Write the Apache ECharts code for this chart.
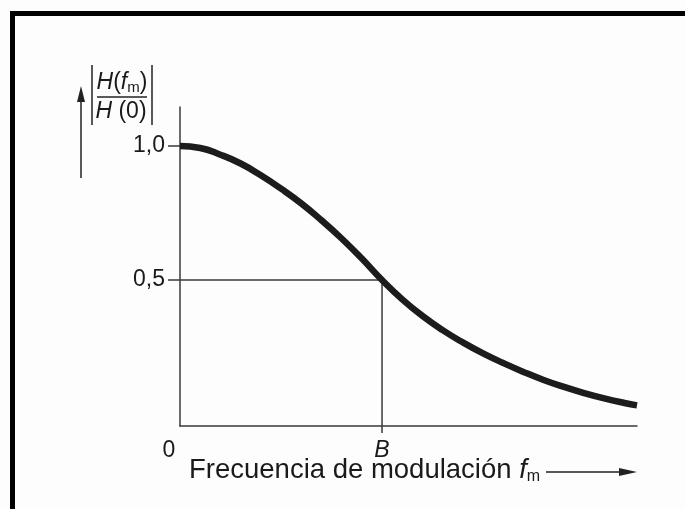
<!DOCTYPE html>
<html>
<head>
<meta charset="utf-8">
<script src="https://cdn.jsdelivr.net/npm/echarts@6/dist/echarts.min.js"></script>
<style>
html,body{margin:0;padding:0;background:#fdfdfd;}
#c{width:685px;height:509px;}
</style>
</head>
<body>
<div id="c"></div>
<script>
// Normalised modulation frequency (fm / B) and response |H(fm)/H(0)|
const freq = [0, 0.1, 0.2, 0.3, 0.4, 0.5, 0.6, 0.7, 0.8, 0.9, 1.0, 1.1, 1.2, 1.3, 1.4, 1.5, 1.6, 1.7, 1.8, 1.9, 2.0, 2.1, 2.2, 2.262];
const resp = [1.0, 0.993, 0.968, 0.935, 0.891, 0.841, 0.786, 0.723, 0.655, 0.58, 0.50, 0.428, 0.366, 0.313, 0.267, 0.226, 0.19, 0.157, 0.127, 0.101, 0.078, 0.058, 0.041, 0.032];
// Guide lines at the half-value point B
const halfLevel = 0.5;
const bandB = 1.0;
// Tick labels
const yTicks = [0.5, 1.0];
const xTicks = [0, 1.0];
const xTickNames = ['0', 'B'];

const yMin = -0.045, yMax = 1.146, xMax = 2.262;
const axisCol = '#3a3a3a';
const font = 'Liberation Sans, Arial, Helvetica, sans-serif';

const chart = echarts.init(document.getElementById('c'), null, {renderer: 'canvas'});
chart.setOption({
  backgroundColor: '#fdfdfd',
  animation: false,
  grid: {left: 180, top: 107, right: 48, bottom: 83},
  xAxis: {
    type: 'value', min: 0, max: xMax,
    axisLine: {show: true, onZero: false, lineStyle: {color: axisCol, width: 1.5}},
    splitLine: {show: false},
    axisTick: {show: true, customValues: [bandB], length: 7, lineStyle: {color: axisCol, width: 1.5}},
    axisLabel: {
      customValues: xTicks, margin: 13, fontFamily: font, fontSize: 23, color: '#1a1a1a',
      formatter: v => { const i = xTicks.indexOf(v); return i === 0 ? '{z|' + xTickNames[0] + '}' : '{b|' + xTickNames[i] + '}'; },
      rich: {
        z: {fontFamily: font, fontSize: 23, color: '#1a1a1a', padding: [0, 22, 0, 0]},
        b: {fontFamily: font, fontSize: 23, color: '#1a1a1a', fontStyle: 'italic'}
      }
    }
  },
  yAxis: {
    type: 'value', min: yMin, max: yMax,
    axisLine: {show: true, onZero: false, lineStyle: {color: axisCol, width: 1.5}},
    splitLine: {show: false},
    axisTick: {show: true, customValues: yTicks, length: 12, lineStyle: {color: axisCol, width: 1.5}},
    axisLabel: {
      customValues: yTicks, margin: 15, fontFamily: font, fontSize: 23, color: '#1a1a1a',
      formatter: v => v.toFixed(1).replace('.', ',')
    }
  },
  series: [
    {
      type: 'line', silent: true, symbol: 'none',
      data: [[0, halfLevel], [bandB, halfLevel], [bandB, yMin]],
      lineStyle: {color: axisCol, width: 1.5}
    },
    {
      type: 'line', silent: true, symbol: 'none', smooth: 0.5,
      data: freq.map((f, i) => [f, resp[i]]),
      lineStyle: {color: '#1c1c1c', width: 6.5, cap: 'butt', join: 'round'}
    }
  ],
  graphic: [
    {type: 'rect', shape: {x: 10, y: 11, width: 675, height: 5}, style: {fill: '#000'}},
    {type: 'rect', shape: {x: 10, y: 11, width: 5, height: 498}, style: {fill: '#000'}},
    // y-axis title: fraction with absolute bars and arrow
    {type: 'line', shape: {x1: 81, y1: 178, x2: 81, y2: 98}, style: {stroke: '#222', lineWidth: 1.5}},
    {type: 'polygon', shape: {points: [[81, 86], [77, 102], [85, 102]]}, style: {fill: '#222'}},
    {type: 'line', shape: {x1: 92, y1: 65, x2: 92, y2: 125}, style: {stroke: '#222', lineWidth: 1.5}},
    {type: 'line', shape: {x1: 152, y1: 65, x2: 152, y2: 125}, style: {stroke: '#222', lineWidth: 1.5}},
    {type: 'line', shape: {x1: 97, y1: 97, x2: 147, y2: 97}, style: {stroke: '#222', lineWidth: 1.5}},
    {type: 'text', x: 122, y: 83, style: {
      text: '{i|H}{n|(}{i|f}{s|m}{n|)}', align: 'center', verticalAlign: 'middle',
      rich: {
        i: {fontFamily: font, fontSize: 23, fontStyle: 'italic', fill: '#1a1a1a'},
        n: {fontFamily: font, fontSize: 23, fill: '#1a1a1a'},
        s: {fontFamily: font, fontSize: 15, fill: '#1a1a1a', padding: [10, 0, 0, 0]}
      }}},
    {type: 'text', x: 121, y: 112, style: {
      text: '{i|H}{n| (0)}', align: 'center', verticalAlign: 'middle',
      rich: {
        i: {fontFamily: font, fontSize: 23, fontStyle: 'italic', fill: '#1a1a1a'},
        n: {fontFamily: font, fontSize: 23, fill: '#1a1a1a'}
      }}},
    // x-axis title with arrow
    {type: 'text', x: 189, y: 470, style: {
      text: '{a|Frecuencia de modulación }{f|f}{s|m}', align: 'left', verticalAlign: 'middle',
      rich: {
        a: {fontFamily: font, fontSize: 27.5, fill: '#1a1a1a'},
        f: {fontFamily: font, fontSize: 27.5, fontStyle: 'italic', fill: '#1a1a1a'},
        s: {fontFamily: font, fontSize: 16, fill: '#1a1a1a', padding: [13, 0, 0, 0]}
      }}},
    {type: 'line', shape: {x1: 546, y1: 472, x2: 622, y2: 472}, style: {stroke: '#222', lineWidth: 1.5}},
    {type: 'polygon', shape: {points: [[637, 472], [619, 468], [619, 476]]}, style: {fill: '#222'}}
  ]
});
</script>
</body>
</html>
